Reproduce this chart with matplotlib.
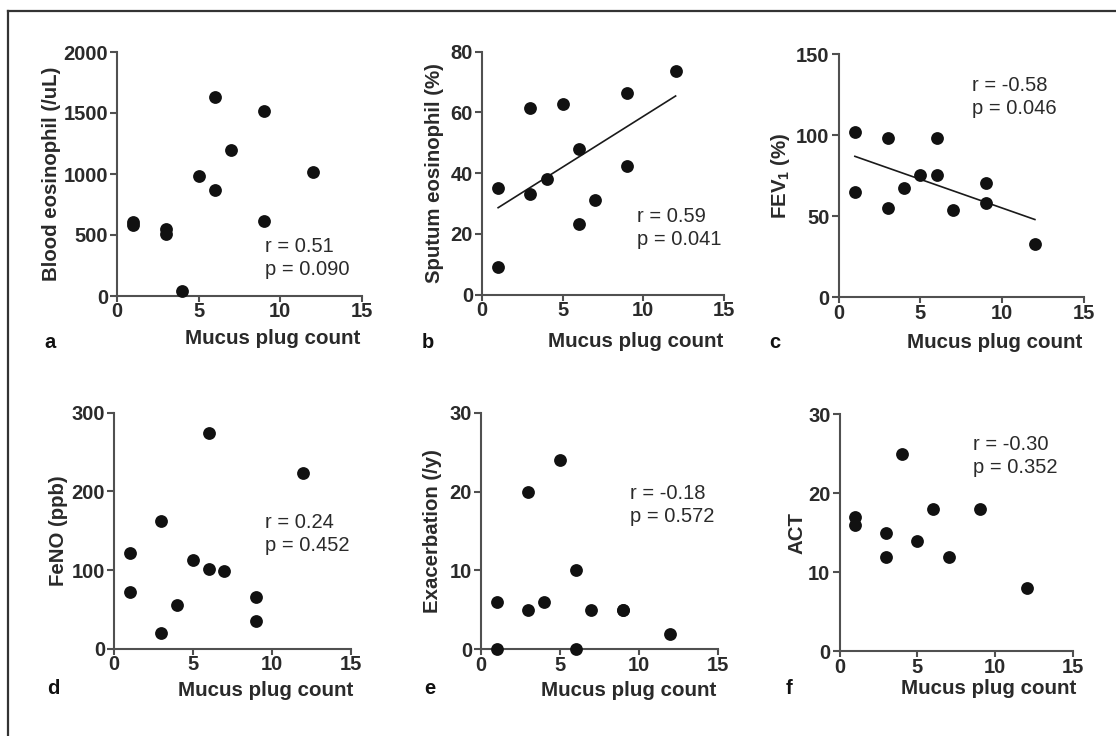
import matplotlib
matplotlib.use("Agg")
import matplotlib.pyplot as plt
from matplotlib.lines import Line2D
import numpy as np

plt.rcParams['font.family'] = ['Liberation Sans', 'DejaVu Sans']
plt.rcParams['mathtext.fontset'] = 'custom'
plt.rcParams['mathtext.rm'] = 'Liberation Sans'
plt.rcParams['mathtext.bf'] = 'Liberation Sans:bold'

# ---------------- data ----------------
mucus_12 = [1, 1, 3, 3, 4, 5, 6, 6, 7, 9, 9, 12]
blood_eos = [605, 580, 550, 510, 45, 985, 1630, 865, 1200, 1520, 615, 1020]
sputum_eos = [35.0, 8.9, 61.6, 33.1, 38.0, 62.8, 48.0, 23.1, 31.0, 66.4, 42.5, 73.5]
fev1 = [101.9, 64.8, 98.1, 55.1, 67.5, 75.7, 98.5, 75.3, 53.7, 70.4, 58.0, 32.7]
feno = [121.7, 71.7, 161.7, 20.4, 56, 112.8, 273.8, 101, 98.8, 65.7, 35.6, 223.2]
exac = [6, 0, 20, 5, 6, 24, 10, 0, 5, 5, 5, 2]
mucus_act = [1, 1, 3, 3, 4, 5, 6, 7, 9, 12]
act = [17, 16, 15, 12, 25, 14, 18, 12, 18, 8]

x_ticks = [0, 5, 10, 15]
panel_letters = ['a', 'b', 'c', 'd', 'e', 'f']
y_labels = ['Blood eosinophil (/uL)', 'Sputum eosinophil (%)', r'FEV$_{\mathbf{1}}$ (%)',
            'FeNO (ppb)', 'Exacerbation (/y)', 'ACT']
y_ticks = [[0, 500, 1000, 1500, 2000], [0, 20, 40, 60, 80], [0, 50, 100, 150],
           [0, 100, 200, 300], [0, 10, 20, 30], [0, 10, 20, 30]]
stats_text = ['r = 0.51\np = 0.090', 'r = 0.59\np = 0.041', 'r = -0.58\np = 0.046',
              'r = 0.24\np = 0.452', 'r = -0.18\np = 0.572', 'r = -0.30\np = 0.352']
x_values = [mucus_12, mucus_12, mucus_12, mucus_12, mucus_12, mucus_act]
y_values = [blood_eos, sputum_eos, fev1, feno, exac, act]
show_fit = [False, True, True, False, False, False]

# ---------------- layout (pixels) ----------------
W, H = 1116, 736
# x0, x1, y_bottom, y_top
boxes = [(117, 362, 296, 52), (482, 724, 294.5, 51.7), (838.5, 1084, 297.3, 54),
         (114, 350.5, 648.7, 412.7), (481, 717.7, 649.3, 412.7), (839.5, 1073.3, 651.3, 414.3)]
ylabel_x = [52, 435, 781, 58, 432, 797]
xlabel_pos = [(360, 338), (723, 341.5), (1082, 342), (353, 690), (716, 690), (1076, 688)]
letter_pos = [(50, 342), (428, 342), (775, 342), (53, 689), (430, 689), (789, 688)]
stats_pos = [(265, 258), (637, 228), (972, 97), (265, 534), (630, 505), (973, 456)]

fig = plt.figure(figsize=(W / 100, H / 100), dpi=100)

def fx(px):
    return px / W

def fy(py):
    return 1 - py / H

spine_col = '#505050'
text_col = '#2a2a2a'

for i in range(6):
    x0, x1, yb, yt = boxes[i]
    ax = fig.add_axes([fx(x0), fy(yb), (x1 - x0) / W, (yb - yt) / H])
    xs = np.array(x_values[i], dtype=float)
    ys = np.array(y_values[i], dtype=float)
    ax.scatter(xs, ys, s=85, color='#111111', zorder=3, clip_on=False, linewidths=0)
    if show_fit[i]:
        k, b = np.polyfit(xs, ys, 1)
        xx = np.array([xs.min(), xs.max()])
        ax.plot(xx, k * xx + b, color='#1a1a1a', lw=1.2, zorder=2)
    ax.set_xlim(0, 15)
    ax.set_ylim(y_ticks[i][0], y_ticks[i][-1])
    ax.set_xticks(x_ticks)
    ax.set_yticks(y_ticks[i])
    for s in ['top', 'right']:
        ax.spines[s].set_visible(False)
    for s in ['left', 'bottom']:
        ax.spines[s].set_color(spine_col)
        ax.spines[s].set_linewidth(1.5)
    ax.tick_params(axis='both', direction='out', color=spine_col, width=1.5,
                   labelsize=14.5, labelcolor=text_col)
    ax.tick_params(axis='y', length=5, pad=1.5)
    ax.tick_params(axis='x', length=4, pad=0.5)
    for lab in ax.get_xticklabels() + ax.get_yticklabels():
        lab.set_fontweight('bold')
    ax.patch.set_alpha(0)

    fig.text(fx(ylabel_x[i]), fy((yb + yt) / 2), y_labels[i], rotation=90,
             ha='center', va='center', fontsize=14.7, fontweight='bold', color=text_col)
    fig.text(fx(xlabel_pos[i][0]), fy(xlabel_pos[i][1]), 'Mucus plug count',
             ha='right', va='center', fontsize=14.8, fontweight='bold', color=text_col)
    fig.text(fx(letter_pos[i][0]), fy(letter_pos[i][1]), panel_letters[i],
             ha='center', va='center', fontsize=14.5, fontweight='bold', color='#111111')
    fig.text(fx(stats_pos[i][0]), fy(stats_pos[i][1]), stats_text[i],
             ha='left', va='center', fontsize=14.5, color=text_col, linespacing=1.25)

# outer frame (left and top edges)
fig.add_artist(Line2D([fx(7.5), fx(7.5)], [fy(10.7), 0], color='#333333', lw=1.6))
fig.add_artist(Line2D([fx(7.5), 1], [fy(10.7), fy(10.7)], color='#333333', lw=1.6))

fig.savefig('out.png', dpi=100)
